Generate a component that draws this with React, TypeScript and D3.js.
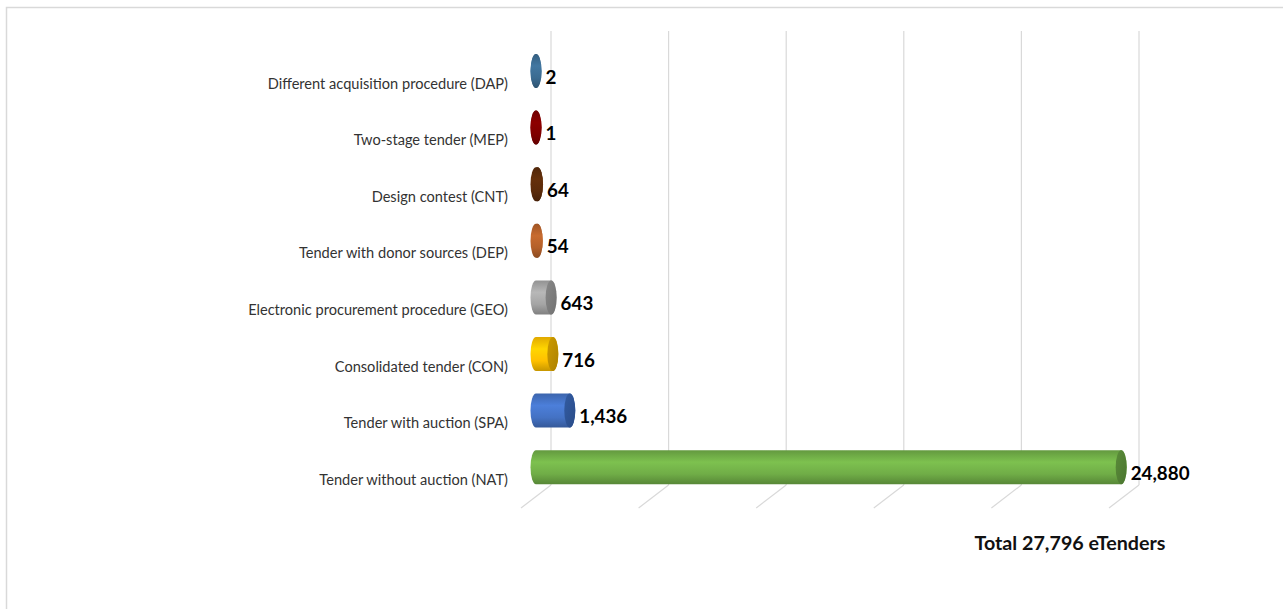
import React, { useEffect, useRef } from "react";
import * as d3 from "d3";

// categories listed top to bottom, as in the picture
const categories = [
  "Different acquisition procedure (DAP)",
  "Two-stage tender (MEP)",
  "Design contest (CNT)",
  "Tender with donor sources (DEP)",
  "Electronic procurement procedure (GEO)",
  "Consolidated tender (CON)",
  "Tender with auction (SPA)",
  "Tender without auction (NAT)",
];
const tenders = [2, 1, 64, 54, 643, 716, 1436, 24880];
const barColors = ["#3b6b91", "#7f0000", "#5b2b0a", "#b4602a", "#a5a5a5", "#ffc000", "#4472c4", "#70ad47"];
const capColors = ["#335f82", "#6e0000", "#4f2408", "#9c5222", "#7f7f7f", "#bf9000", "#2f5597", "#548235"];
const gridTicks = [0, 5000, 10000, 15000, 20000, 25000];
const totalLabel = "Total 27,796 eTenders";

const W = 1283;
const H = 609;

const App: React.FC = () => {
  const svgRef = useRef<SVGSVGElement | null>(null);

  useEffect(() => {
    const svg = d3.select(svgRef.current);
    svg.selectAll("*").remove();

    const wallTop = 31;
    const wallBottom = 485;
    const depth = { dx: -30, dy: 23 };
    const barShift = -15; // bars sit in front of the back wall
    const barH = 34;
    const rx = 5.5;

    const x = d3.scaleLinear().domain([0, 25000]).range([551, 1139]);
    const y = d3.scaleBand<string>().domain(categories).range([42.7, 495.5]).padding(0);
    const fmt = d3.format(",");

    // chart area border
    svg
      .append("rect")
      .attr("x", 6.5)
      .attr("y", 7.5)
      .attr("width", W + 20)
      .attr("height", H + 20)
      .attr("fill", "#fff")
      .attr("stroke", "#d9d9d9")
      .attr("stroke-width", 1.5);

    // back wall gridlines + floor lines
    const grid = svg.append("g").attr("stroke", "#d9d9d9").attr("stroke-width", 1.2);
    grid
      .selectAll("line.v")
      .data(gridTicks)
      .join("line")
      .attr("class", "v")
      .attr("x1", (d) => x(d))
      .attr("x2", (d) => x(d))
      .attr("y1", wallTop)
      .attr("y2", wallBottom);
    grid
      .selectAll("line.f")
      .data(gridTicks)
      .join("line")
      .attr("class", "f")
      .attr("x1", (d) => x(d))
      .attr("x2", (d) => x(d) + depth.dx)
      .attr("y1", wallBottom)
      .attr("y2", wallBottom + depth.dy);

    const defs = svg.append("defs");
    categories.forEach((_, i) => {
      const base = d3.color(barColors[i])!;
      const g = defs
        .append("linearGradient")
        .attr("id", `cyl${i}`)
        .attr("x1", 0)
        .attr("x2", 0)
        .attr("y1", 0)
        .attr("y2", 1);
      g.append("stop").attr("offset", "0%").attr("stop-color", d3.color(base)!.darker(0.35).formatHex());
      g.append("stop").attr("offset", "35%").attr("stop-color", d3.color(base)!.brighter(0.3).formatHex());
      g.append("stop").attr("offset", "70%").attr("stop-color", base.formatHex());
      g.append("stop").attr("offset", "100%").attr("stop-color", d3.color(base)!.darker(0.7).formatHex());
      const c = defs
        .append("linearGradient")
        .attr("id", `cap${i}`)
        .attr("x1", 0)
        .attr("x2", 1)
        .attr("y1", 0)
        .attr("y2", 1);
      const cb = d3.color(capColors[i])!;
      c.append("stop").attr("offset", "0%").attr("stop-color", d3.color(cb)!.brighter(0.2).formatHex());
      c.append("stop").attr("offset", "100%").attr("stop-color", d3.color(cb)!.darker(0.3).formatHex());
    });

    const bars = svg.append("g");
    categories.forEach((cat, i) => {
      const cy = (y(cat) ?? 0) + y.bandwidth() / 2;
      const x0 = x(0) + barShift;
      const x1 = x(tenders[i]) + barShift;
      const top = cy - barH / 2;
      const bot = cy + barH / 2;
      const ry = barH / 2;
      const body = `M${x0},${top} L${x1},${top} A${rx},${ry} 0 0 1 ${x1},${bot} L${x0},${bot} A${rx},${ry} 0 0 1 ${x0},${top} Z`;
      bars.append("path").attr("d", body).attr("fill", `url(#cyl${i})`);
      bars
        .append("ellipse")
        .attr("cx", x1)
        .attr("cy", cy)
        .attr("rx", rx)
        .attr("ry", ry)
        .attr("fill", tenders[i] < 100 ? `url(#cyl${i})` : `url(#cap${i})`);

      bars
        .append("text")
        .attr("x", x1 + rx + 4)
        .attr("y", cy + 5)
        .attr("dominant-baseline", "central")
        .attr("font-family", "Lato, 'Open Sans', sans-serif")
        .attr("font-weight", "bold")
        .attr("font-size", 18.8)
        .attr("fill", "#000")
        .text(fmt(tenders[i]));
    });

    // category axis labels (sit on the front edge of the floor)
    svg
      .append("g")
      .selectAll("text")
      .data(categories)
      .join("text")
      .attr("x", 508)
      .attr("y", (d) => (y(d) ?? 0) + y.bandwidth() / 2 + 12)
      .attr("text-anchor", "end")
      .attr("dominant-baseline", "central")
      .attr("font-family", "Lato, 'Open Sans', sans-serif")
      .attr("font-size", 14.6)
      .attr("fill", "#333")
      .text((d) => d);

    svg
      .append("text")
      .attr("x", 1070)
      .attr("y", 542)
      .attr("text-anchor", "middle")
      .attr("dominant-baseline", "central")
      .attr("font-family", "Lato, 'Open Sans', sans-serif")
      .attr("font-weight", "bold")
      .attr("font-size", 19.7)
      .attr("fill", "#111")
      .text(totalLabel);
  }, []);

  return (
    <svg
      ref={svgRef}
      width={W}
      height={H}
      style={{ position: "absolute", left: 0, top: 0, display: "block" }}
    />
  );
};

export default App;
